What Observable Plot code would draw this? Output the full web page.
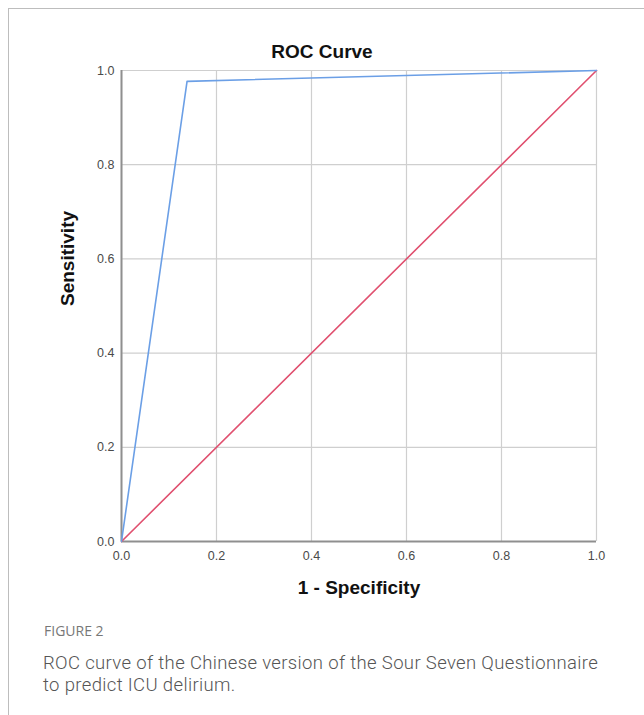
<!DOCTYPE html>
<html>
<head>
<meta charset="utf-8">
<script src="https://cdn.jsdelivr.net/npm/d3@7"></script>
<script src="https://cdn.jsdelivr.net/npm/@observablehq/plot@0.6"></script>
<style>
  html, body { margin: 0; padding: 0; background: #fff; }
  #page { position: relative; width: 644px; height: 715px; overflow: hidden; }
  #frame { position: absolute; left: 8px; top: 8px; right: 0; bottom: 0;
           border-left: 1px solid #bdbdbd; border-top: 1px solid #bdbdbd; }
  #chart { position: absolute; left: 0; top: 0; }
  #title { position: absolute; left: 0; top: 41px; width: 644px; text-align: center;
           font: bold 19px "Liberation Sans", Arial, sans-serif; color: #111; }
  #figlabel { position: absolute; left: 44px; top: 621px;
              font: 400 14px "Open Sans", sans-serif; color: #777; }
  .cap { position: absolute; left: 43px; width: 600px; white-space: nowrap;
         font: 300 18.5px/21.7px Roboto, "Open Sans", sans-serif; letter-spacing: 0.35px; color: #555; }
</style>
</head>
<body>
<div id="page">
  <div id="frame"></div>
  <div id="chart"></div>
  <div id="title">ROC Curve</div>
  <div id="figlabel">FIGURE 2</div>
  <div class="cap" style="top:652.5px">ROC curve of the Chinese version of the Sour Seven Questionnaire</div>
  <div class="cap" style="top:674.5px">to predict ICU delirium.</div>
</div>
<script>
// ROC curve (1 - specificity, sensitivity)
const rocFpr = [0, 0.138, 1];
const rocTpr = [0, 0.977, 1];
// Reference (chance) line
const refFpr = [0, 1];
const refTpr = [0, 1];
// Tick values
const xTicks = [0, 0.2, 0.4, 0.6, 0.8, 1.0];
const yTicks = [0, 0.2, 0.4, 0.6, 0.8, 1.0];
const xLabel = "1 - Specificity";
const yLabel = "Sensitivity";

const roc = rocFpr.map((x, i) => ({x, y: rocTpr[i]}));
const ref = refFpr.map((x, i) => ({x, y: refTpr[i]}));

const blue = "#6b9fe6";
const red = "#e0506f";

const plot = Plot.plot({
  width: 644,
  height: 615,
  marginLeft: 121,
  marginRight: 48,
  marginTop: 70,
  marginBottom: 74,
  style: {fontFamily: "'Liberation Sans', Arial, sans-serif", fontSize: "12.5px", color: "#555", background: "transparent"},
  x: {domain: [0, 1], label: null},
  y: {domain: [0, 1], label: null},
  marks: [
    Plot.gridX(xTicks, {stroke: "#cfcfcf", strokeOpacity: 1, strokeWidth: 1.2}),
    Plot.gridY(yTicks, {stroke: "#cfcfcf", strokeOpacity: 1, strokeWidth: 1.2}),
    Plot.ruleX([0], {stroke: "#8f8f8f", strokeWidth: 2}),
    Plot.ruleY([0], {stroke: "#8f8f8f", strokeWidth: 2}),
    Plot.line(ref, {x: "x", y: "y", stroke: red, strokeWidth: 1.6}),
    Plot.line(roc, {x: "x", y: "y", stroke: blue, strokeWidth: 1.6}),
    Plot.axisX(xTicks, {tickSize: 0, tickPadding: 10, tickFormat: d3.format(".1f"), label: null, fill: "#4a4a4a"}),
    Plot.axisY(yTicks, {tickSize: 0, tickPadding: 7, tickFormat: d3.format(".1f"), label: null, fill: "#4a4a4a"}),
    Plot.text([xLabel], {frameAnchor: "bottom", dy: 52, fontSize: 19, fontWeight: "bold", fill: "#111", text: d => d}),
    Plot.text([yLabel], {frameAnchor: "left", dx: -54, rotate: -90, fontSize: 19, fontWeight: "bold", fill: "#111", text: d => d})
  ]
});
document.getElementById("chart").appendChild(plot);
</script>
</body>
</html>
